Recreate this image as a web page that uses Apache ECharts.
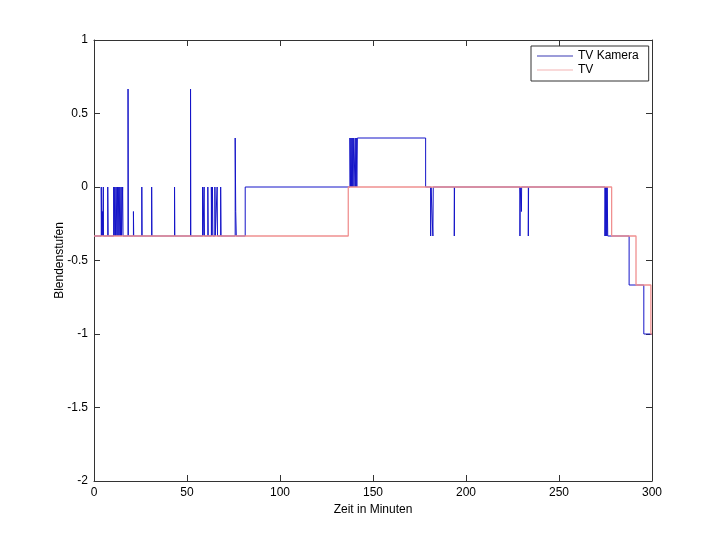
<!DOCTYPE html>
<html>
<head>
<meta charset="utf-8">
<script src="https://cdn.jsdelivr.net/npm/echarts@6/dist/echarts.min.js"></script>
<style>html,body{margin:0;padding:0;background:#fff}#c{width:720px;height:540px}</style>
</head>
<body>
<div id="c"></div>
<script>
// Step change points (time in minutes, value in Blendenstufen); value holds until next change
const T3 = 1/3, S6 = 1/6;
const kameraTime = [0, 3.9, 4.1, 4.5, 4.7, 5.0, 5.1, 7.4, 7.6,
  10.6, 10.8, 11.2, 11.5, 11.9, 12.3, 12.6, 12.9, 13.3, 13.5, 13.9, 14.2, 14.6, 14.8, 15.4, 15.6,
  18.3, 18.45, 21.2, 21.35, 25.7, 25.85, 31.0, 31.15, 43.3, 43.45, 51.9, 52.05,
  58.4, 58.6, 59.2, 59.4, 61.2, 61.4, 63.1, 63.3, 63.7, 63.9, 65.0, 65.2, 66.2, 66.4, 68.1, 68.3,
  75.9, 76.2, 76.5, 81.3,
  137.6, 137.9, 138.2, 138.5, 138.8, 139.1, 139.4, 139.8, 140.4, 140.7, 141.0, 141.3, 141.6, 141.9,
  178.3, 181.0, 181.2, 182.2, 182.4, 193.7, 193.85, 229.0, 229.1, 229.8, 229.9, 233.5, 233.65,
  274.7, 274.9, 275.2, 275.4, 275.7, 275.9, 276.2, 287.7, 295.6, 300];
const kameraValue = [-T3, 0, -T3, -S6, -T3, 0, -T3, 0, -T3,
  0, -T3, 0, -T3, 0, -T3, 0, -T3, 0, -T3, 0, -T3, 0, -T3, 0, -T3,
  2*T3, -T3, -S6, -T3, 0, -T3, 0, -T3, 0, -T3, 2*T3, -T3,
  0, -T3, 0, -T3, 0, -T3, 0, -T3, 0, -T3, 0, -T3, 0, -T3, 0, -T3,
  T3, -S6, -T3, 0,
  T3, 0, T3, 0, T3, 0, T3, 0, T3, 0, T3, 0, T3, T3,
  0, -T3, 0, -T3, 0, -T3, 0, -T3, 0, -S6, 0, -T3, 0,
  -T3, 0, -T3, 0, -T3, 0, -T3, -2*T3, -1, -1];
const tvTime = [0, 136.7, 278.3, 291.4, 299.4, 300];
const tvValue = [-T3, 0, -T3, -2*T3, -1, -1];
const seriesNames = ['TV Kamera', 'TV'];
const xTicks = {min: 0, max: 300, step: 50};
const yTicks = {min: -2, max: 1, step: 0.5};

function pairs(t, v) { return t.map((x, i) => [x, v[i]]); }

const font = 'Liberation Sans, Arial, Helvetica, sans-serif';
const axisCol = '#333';
function yLabel(v) { return String(Math.round(v * 10) / 10); }
const baseX = {
  type: 'value', min: xTicks.min, max: xTicks.max, interval: xTicks.step,
  axisLine: {show: true, onZero: false, lineStyle: {color: axisCol, width: 1}},
  axisTick: {show: true, inside: true, length: 6, lineStyle: {color: axisCol}},
  splitLine: {show: false}
};
const baseY = {
  type: 'value', min: yTicks.min, max: yTicks.max, interval: yTicks.step,
  axisLine: {show: true, onZero: false, lineStyle: {color: axisCol, width: 1}},
  axisTick: {show: true, inside: true, length: 6, lineStyle: {color: axisCol}},
  splitLine: {show: false}
};

const chart = echarts.init(document.getElementById('c'), null, {renderer: 'canvas'});
chart.setOption({
  animation: false,
  backgroundColor: '#fff',
  grid: {left: 94, right: 68, top: 40, bottom: 59, containLabel: false},
  xAxis: [
    Object.assign({}, baseX, {position: 'bottom',
      name: 'Zeit in Minuten', nameLocation: 'middle', nameGap: 20,
      nameTextStyle: {fontFamily: font, fontSize: 12, color: '#000'},
      axisLabel: {fontFamily: font, fontSize: 12, color: '#000', margin: 6}}),
    Object.assign({}, baseX, {position: 'top', axisLabel: {show: false}})
  ],
  yAxis: [
    Object.assign({}, baseY, {position: 'left',
      name: 'Blendenstufen', nameLocation: 'middle', nameGap: 28, nameRotate: 90,
      nameMoveOverlap: false,
      nameTextStyle: {fontFamily: font, fontSize: 12, color: '#000'},
      axisLabel: {fontFamily: font, fontSize: 12, color: '#000', margin: 6, formatter: yLabel}}),
    Object.assign({}, baseY, {position: 'right', axisLabel: {show: false}})
  ],
  legend: {
    show: true, orient: 'vertical', left: 531, top: 46,
    padding: [4, 10, 5, 6], itemGap: 2, itemWidth: 36, itemHeight: 1,
    icon: 'rect', backgroundColor: '#fff', borderColor: '#333', borderWidth: 1, borderRadius: 0,
    textStyle: {fontFamily: font, fontSize: 12, color: '#000', padding: [0, 0, 0, 0]},
    data: seriesNames
  },
  series: [
    {name: seriesNames[0], type: 'line', step: 'end', showSymbol: false, symbol: 'none',
     sampling: null, data: pairs(kameraTime, kameraValue),
     lineStyle: {color: '#1414c8', width: 1}, itemStyle: {color: '#3a3ab4'}},
    {name: seriesNames[1], type: 'line', step: 'end', showSymbol: false, symbol: 'none',
     data: pairs(tvTime, tvValue),
     lineStyle: {color: '#f09090', width: 1.3}, itemStyle: {color: '#f3b3b3'}}
  ]
});
</script>
</body>
</html>
